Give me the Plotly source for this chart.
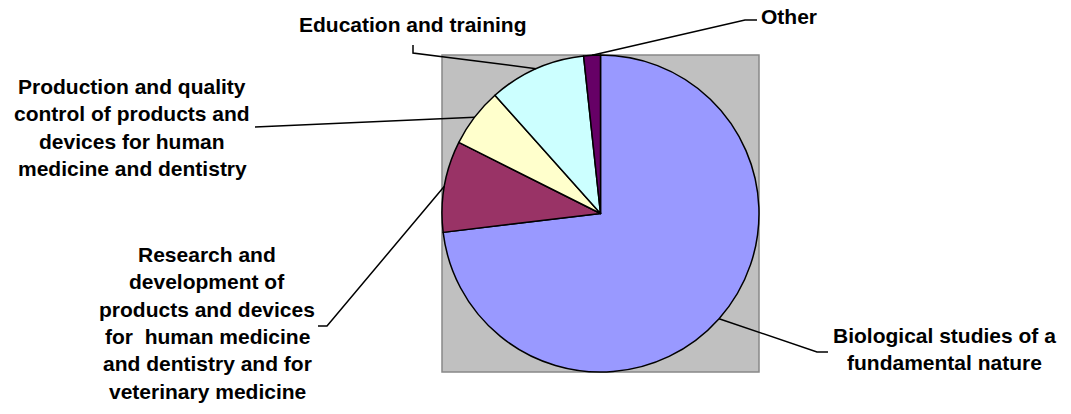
import math
import plotly.graph_objects as go

# ---------------- data ----------------
categories = [
    "Biological studies of a fundamental nature",
    "Research and development of products and devices for human medicine and dentistry and for veterinary medicine",
    "Production and quality control of products and devices for human medicine and dentistry",
    "Education and training",
    "Other",
]
shares = [73.1, 9.3, 6.0, 9.9, 1.7]
slice_colors = ["#9999FF", "#993366", "#FFFFCC", "#CCFFFF", "#660066"]
label_lines = [
    ["Biological studies of a", "fundamental nature"],
    ["Research and", "development of", "products and devices",
     "for\u00a0 human medicine", "and dentistry and for", "veterinary medicine"],
    ["Production and quality", "control of products and",
     "devices for human", "medicine and dentistry"],
    ["Education and training"],
    ["Other"],
]

# ---------------- layout (pixels) ----------------
W, H = 1071, 414
PIE_X0, PIE_X1, PIE_Y0, PIE_Y1 = 442, 759, 55, 372
FS = 21
LINE_GAP = 27.3
# label block: (x, first baseline, xanchor), leader elbow points after the slice edge
label_pos = [
    (944, 343, "center"),
    (207, 262, "center"),
    (132, 94, "center"),
    (413, 32, "center"),
    (759, 24, "left"),
]
leader_tail = [
    [(817, 352), (828, 352)],
    [(327, 326), (318, 326)],
    [(255, 127)],
    [(413, 53), (413, 45)],
    [(745, 20), (757, 20)],
]


def px(x):
    return x / W


def py(y):
    return 1 - y / H


fig = go.Figure()
fig.add_trace(go.Pie(
    labels=categories,
    values=shares,
    sort=False,
    direction="clockwise",
    rotation=0,
    marker=dict(colors=slice_colors, line=dict(color="#000000", width=1.5)),
    textinfo="none",
    hoverinfo="label+percent",
    domain=dict(x=[px(PIE_X0), px(PIE_X1)], y=[py(PIE_Y1), py(PIE_Y0)]),
    showlegend=False,
))

shapes = [dict(type="rect", xref="paper", yref="paper",
               x0=px(PIE_X0), x1=px(PIE_X1), y0=py(PIE_Y1), y1=py(PIE_Y0),
               fillcolor="#C0C0C0", line=dict(color="#888888", width=1.5),
               layer="below")]

cx = (PIE_X0 + PIE_X1) / 2
cy = (PIE_Y0 + PIE_Y1) / 2
R = min(PIE_X1 - PIE_X0, PIE_Y1 - PIE_Y0) / 2
total = sum(shares)
cum = 0.0
annotations = []
for i, v in enumerate(shares):
    mid = (cum + v / 2) / total * 2 * math.pi
    cum += v
    ex = cx + R * math.sin(mid)
    ey = cy - R * math.cos(mid)
    pts = [(ex, ey)] + leader_tail[i]
    path = "M " + " L ".join(f"{px(x):.6f},{py(y):.6f}" for x, y in pts)
    shapes.append(dict(type="path", xref="paper", yref="paper", path=path,
                       line=dict(color="#000000", width=1.5)))
    lx, base, anchor = label_pos[i]
    for j, t in enumerate(label_lines[i]):
        b = base + j * LINE_GAP
        annotations.append(dict(
            x=px(lx), y=py(b - 0.35 * FS), xref="paper", yref="paper",
            text=t, showarrow=False, xanchor=anchor, yanchor="middle",
            font=dict(family="Liberation Sans, Arial, sans-serif", size=FS,
                      color="#000000", weight="bold"),
        ))

fig.update_layout(
    width=W, height=H,
    margin=dict(l=0, r=0, t=0, b=0),
    paper_bgcolor="#FFFFFF",
    plot_bgcolor="#FFFFFF",
    shapes=shapes,
    annotations=annotations,
)

fig.write_html("out.html")
